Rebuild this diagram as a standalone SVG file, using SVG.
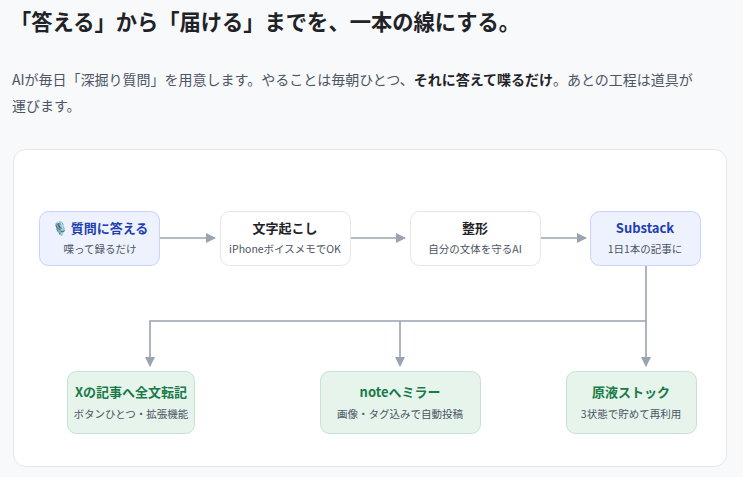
<svg xmlns="http://www.w3.org/2000/svg" width="743" height="477" viewBox="0 0 743 477">
<style>
text{font-family:"Noto Sans CJK JP","Liberation Sans",sans-serif}
.h{font-size:22px;font-weight:bold;fill:#1f2328}
.p{font-size:14px;fill:#4b5563}
.t{font-size:13px;font-weight:bold;text-anchor:middle}
.s{font-size:10.5px;fill:#4b5563;text-anchor:middle}
.blue{fill:#eef2fe;stroke:#c7d2fe}
.white{fill:#fff;stroke:#e5e7eb}
.green{fill:#e6f4ec;stroke:#c5e3d1}
.c{stroke:#9aa3b0;stroke-width:1.6;fill:none}
</style>
<defs><marker id="a" markerWidth="10" markerHeight="10" refX="9" refY="5" orient="auto" markerUnits="userSpaceOnUse"><path d="M0,0 L10,5 L0,10 z" fill="#9aa3b0"/></marker></defs>
<rect width="743" height="477" fill="#f8f9fb"/>
<text class="h" x="10" y="30" textLength="510" lengthAdjust="spacingAndGlyphs">「答える」から「届ける」までを、一本の線にする。</text>
<text class="p" x="12" y="85">AIが毎日「深掘り質問」を用意します。やることは毎朝ひとつ、<tspan font-weight="bold" fill="#1f2328">それに答えて喋るだけ</tspan>。あとの工程は道具が</text>
<text class="p" x="12" y="111">運びます。</text>
<rect x="13.5" y="149.5" width="713" height="317" rx="12" fill="#fff" stroke="#e5e7eb"/>
<g id="connectors">
<path class="c" d="M160,238 H215" marker-end="url(#a)"/>
<path class="c" d="M350,238 H405" marker-end="url(#a)"/>
<path class="c" d="M540,238 H586" marker-end="url(#a)"/>
<path class="c" d="M646,265 V321 H150 V366" marker-end="url(#a)"/>
<path class="c" d="M400,321 V366" marker-end="url(#a)"/>
<path class="c" d="M646,321 V366" marker-end="url(#a)"/>
</g>
<g id="n1"><rect class="blue" x="39.5" y="211.5" width="120" height="54" rx="9"/><text class="t" x="100" y="233" fill="#1e40af">🎙️ 質問に答える</text><text class="s" x="100" y="253">喋って録るだけ</text></g>
<g id="n2"><rect class="white" x="220.5" y="211.5" width="130" height="54" rx="9"/><text class="t" x="285" y="233" fill="#1f2328">文字起こし</text><text class="s" x="285" y="253">iPhoneボイスメモでOK</text></g>
<g id="n3"><rect class="white" x="410.5" y="211.5" width="130" height="54" rx="9"/><text class="t" x="475" y="233" fill="#1f2328">整形</text><text class="s" x="475" y="253">自分の文体を守るAI</text></g>
<g id="n4"><rect class="blue" x="590.5" y="211.5" width="110" height="54" rx="9"/><text class="t" x="645" y="233" fill="#1e40af" font-size="14">Substack</text><text class="s" x="645" y="253">1日1本の記事に</text></g>
<g id="n5"><rect class="green" x="67.5" y="371.5" width="127" height="62" rx="9"/><text class="t" x="131" y="397" fill="#1a7a48">Xの記事へ全文転記</text><text class="s" x="131" y="418">ボタンひとつ・拡張機能</text></g>
<g id="n6"><rect class="green" x="320.5" y="371.5" width="160" height="62" rx="9"/><text class="t" x="400" y="397" fill="#1a7a48">noteへミラー</text><text class="s" x="400" y="418">画像・タグ込みで自動投稿</text></g>
<g id="n7"><rect class="green" x="566.5" y="371.5" width="130" height="62" rx="9"/><text class="t" x="631" y="397" fill="#1a7a48">原液ストック</text><text class="s" x="631" y="418">3状態で貯めて再利用</text></g>
</svg>
